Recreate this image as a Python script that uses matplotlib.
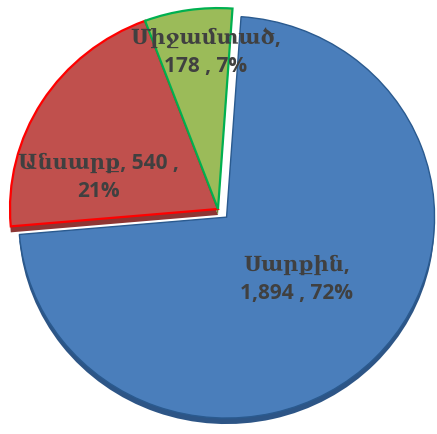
import matplotlib
matplotlib.use("Agg")
import matplotlib.pyplot as plt
import matplotlib.transforms as mtransforms

# data
names = ["Սարքին", "Անսարք", "Միջամտած"]
values = [1894, 540, 178]
percents = [72, 21, 7]

labels = [
    f"{names[0]},\n{values[0]:,} , {percents[0]}%",
    f"{names[1]}, {values[1]} ,\n{percents[1]}%",
    f"{names[2]},\n{values[2]} , {percents[2]}%",
]

face = ["#4a7ebb", "#c0504d", "#9bbb59"]
side = ["#2d5586", "#8e3533", "#6f8a3c"]
edges = ["#2a5a8f", "#ff0000", "#00b050"]
label_pos = [(297, 279), (98, 177), (206, 52)]  # pixel centres

W, H = 437, 435
cx, cy = 218, H - 210
R = 208
squash = 0.966
depth = 6
explode = [12, 0, 0]  # pie explode is in data units (pixels here)

fig = plt.figure(figsize=(W / 100, H / 100), dpi=100)
ax = fig.add_axes([0, 0, 1, 1])


def squash_tr(shift=0):
    return (mtransforms.Affine2D().translate(-cx, -cy).scale(1, squash)
            .translate(cx, cy - shift) + ax.transData)


# side (thickness) layer
sw, _ = ax.pie(values, startangle=86, counterclock=False, center=(cx, cy),
               radius=R, explode=explode, colors=side, frame=True,
               wedgeprops=dict(linewidth=0))
for w in sw:
    w.set_transform(squash_tr(depth))
    w.set_zorder(1)

# top layer
tw, _ = ax.pie(values, startangle=86, counterclock=False, center=(cx, cy),
               radius=R, explode=explode, colors=face, frame=True,
               wedgeprops=dict(linewidth=1.6))
for w, ec in zip(tw, edges):
    w.set_edgecolor(ec)
    w.set_transform(squash_tr(0))
    w.set_zorder(2)
tw[0].set_linewidth(1.0)

ax.set_xlim(0, W)
ax.set_ylim(0, H)
ax.axis("off")

for lab, (px, py) in zip(labels, label_pos):
    ax.text(px, H - py, lab, ha="center", va="center", fontsize=15,
            fontweight="bold", color="#404040", linespacing=1.45,
            family=["Open Sans", "DejaVu Serif"], zorder=5)

fig.savefig("out.png", dpi=100)
